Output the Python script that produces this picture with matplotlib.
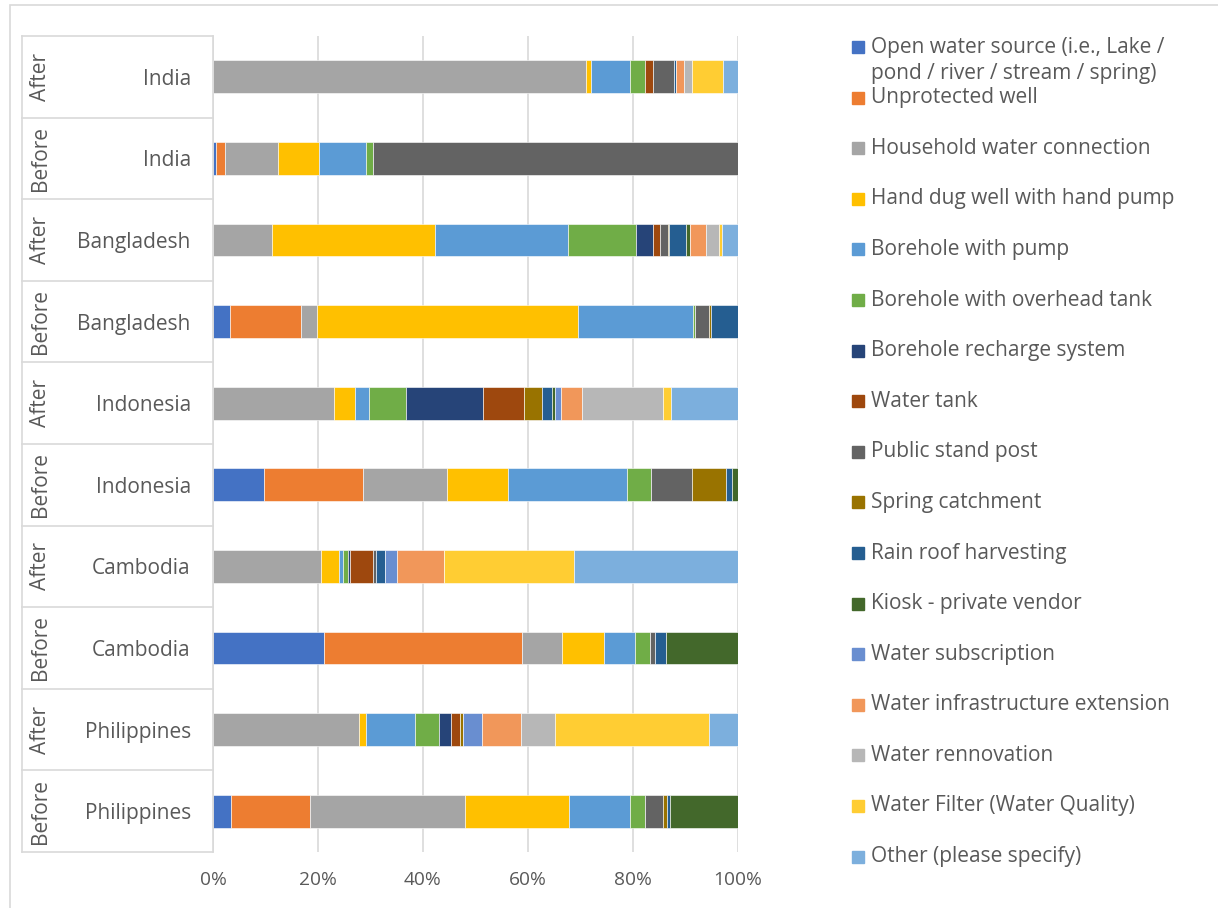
import matplotlib.pyplot as plt
import numpy as np
from matplotlib.patches import Rectangle
from matplotlib.lines import Line2D

plt.rcParams['font.family'] = ['Open Sans', 'DejaVu Sans']

countries = ['India', 'India', 'Bangladesh', 'Bangladesh', 'Indonesia', 'Indonesia',
             'Cambodia', 'Cambodia', 'Philippines', 'Philippines']
phases = ['After', 'Before', 'After', 'Before', 'After', 'Before',
          'After', 'Before', 'After', 'Before']

source_labels = [
    'Open water source (i.e., Lake /\npond / river / stream / spring)',
    'Unprotected well',
    'Household water connection',
    'Hand dug well with hand pump',
    'Borehole with pump',
    'Borehole with overhead tank',
    'Borehole recharge system',
    'Water tank',
    'Public stand post',
    'Spring catchment',
    'Rain roof harvesting',
    'Kiosk - private vendor',
    'Water subscription',
    'Water infrastructure extension',
    'Water rennovation',
    'Water Filter (Water Quality)',
    'Other (please specify)',
]
colors = ['#4472C4', '#ED7D31', '#A5A5A5', '#FFC000', '#5B9BD5', '#70AD47', '#264478',
          '#9E480E', '#636363', '#997300', '#255E91', '#43682B', '#698ED0', '#F1975A',
          '#B7B7B7', '#FFCD33', '#7CAFDD']

# shares per row, rows listed top to bottom
open_water   = [0, 0.5, 0, 3.2, 0, 9.7, 0, 21.1, 0, 3.4]
unprotected  = [0, 1.8, 0, 13.6, 0, 18.9, 0, 37.7, 0, 15.0]
household    = [71.1, 10.1, 11.2, 3.0, 23.0, 16.0, 20.6, 7.7, 27.9, 29.6]
hand_dug     = [0.9, 7.8, 31.0, 49.7, 4.1, 11.6, 3.4, 7.9, 1.2, 19.9]
bh_pump      = [7.4, 8.9, 25.4, 21.9, 2.7, 22.7, 0.8, 6.0, 9.3, 11.6]
bh_overhead  = [2.9, 1.4, 12.9, 0.5, 7.0, 4.7, 0.9, 2.8, 4.7, 2.8]
bh_recharge  = [0, 0, 3.4, 0, 14.7, 0, 0.3, 0, 2.3, 0]
water_tank   = [1.6, 0, 1.3, 0, 7.8, 0, 4.4, 0, 1.7, 0]
stand_post   = [3.9, 69.5, 1.4, 2.6, 0, 7.8, 0.7, 0.9, 0, 3.4]
spring_catch = [0, 0, 0.3, 0.4, 3.3, 6.5, 0, 0, 0.6, 0.7]
rain_roof    = [0.3, 0, 3.2, 5.1, 1.9, 1.0, 1.6, 2.2, 0, 0.7]
kiosk        = [0, 0, 0.7, 0, 0.7, 1.2, 0, 13.7, 0, 12.9]
subscription = [0, 0, 0, 0, 1.0, 0, 2.4, 0, 3.6, 0]
infra_ext    = [1.6, 0, 3.1, 0, 4.1, 0, 8.9, 0, 7.4, 0]
renovation   = [1.6, 0, 2.5, 0, 15.4, 0, 0, 0, 6.5, 0]
water_filter = [5.8, 0, 0.5, 0, 1.6, 0, 24.7, 0, 29.3, 0]
other        = [2.9, 0, 3.1, 0, 12.7, 0, 31.3, 0, 5.5, 0]

series = [open_water, unprotected, household, hand_dug, bh_pump, bh_overhead, bh_recharge,
          water_tank, stand_post, spring_catch, rain_roof, kiosk, subscription, infra_ext,
          renovation, water_filter, other]

W, H = 1218, 908
fig = plt.figure(figsize=(W / 100, H / 100), dpi=100)

def fx(px):
    return px / W

def fy(py):
    return 1 - py / H

ax_l, ax_r, ax_t, ax_b = 213, 738, 36, 852
ax = fig.add_axes([fx(ax_l), fy(ax_b), fx(ax_r - ax_l), (ax_b - ax_t) / H])

data = np.array(series, dtype=float)
data = data / data.sum(axis=0) * 100
n = len(countries)
y = np.arange(n)
left = np.zeros(n)
for vals, col in zip(data, colors):
    ax.barh(y, vals, left=left, height=0.4, color=col, edgecolor='white', linewidth=0.4)
    left += vals

ax.set_xlim(0, 100)
ax.set_ylim(n - 0.5, -0.5)
ax.set_xticks(np.arange(0, 101, 20))
ax.set_xticklabels([f'{v}%' for v in range(0, 101, 20)], fontsize=13.8, color='#595959')
ax.set_yticks(y)
ax.set_yticklabels(countries, fontsize=15, color='#595959')
ax.tick_params(axis='both', length=0)
ax.tick_params(axis='y', pad=16)
ax.tick_params(axis='x', pad=14)
ax.grid(axis='x', color='#D9D9D9', linewidth=1.2)
ax.set_axisbelow(True)
for s in ['top', 'right', 'bottom']:
    ax.spines[s].set_visible(False)
ax.spines['left'].set_color('#D9D9D9')
ax.spines['left'].set_linewidth(1.2)

# two-level category table on the left
row_h = (ax_b - ax_t) / n
for i in range(n + 1):
    yy = ax_t + i * row_h
    fig.add_artist(Line2D([fx(22), fx(ax_l)], [fy(yy), fy(yy)], color='#D9D9D9', lw=1.2))
fig.add_artist(Line2D([fx(22), fx(22)], [fy(ax_t), fy(ax_b)], color='#D9D9D9', lw=1.2))
for i, ph in enumerate(phases):
    yc = ax_t + (i + 0.5) * row_h
    fig.text(fx(41), fy(yc), ph, rotation=90, ha='center', va='center',
             fontsize=15, color='#595959')

# outer chart frame
fig.add_artist(Rectangle((fx(10), fy(912)), fx(1215), (912 - 5) / H, fill=False,
                         edgecolor='#D9D9D9', lw=1.2))

# legend
leg_y0, leg_dy = 47, 50.6
for i, (lab, col) in enumerate(zip(source_labels, colors)):
    yc = leg_y0 + i * leg_dy
    fig.add_artist(Rectangle((fx(852), fy(yc + 6)), fx(12), 12 / H, color=col))
    for k, line in enumerate(lab.split('\n')):
        fig.text(fx(871), fy(yc + k * 26), line, ha='left', va='center',
                 fontsize=15, color='#595959')

fig.savefig('out.png', dpi=100)
